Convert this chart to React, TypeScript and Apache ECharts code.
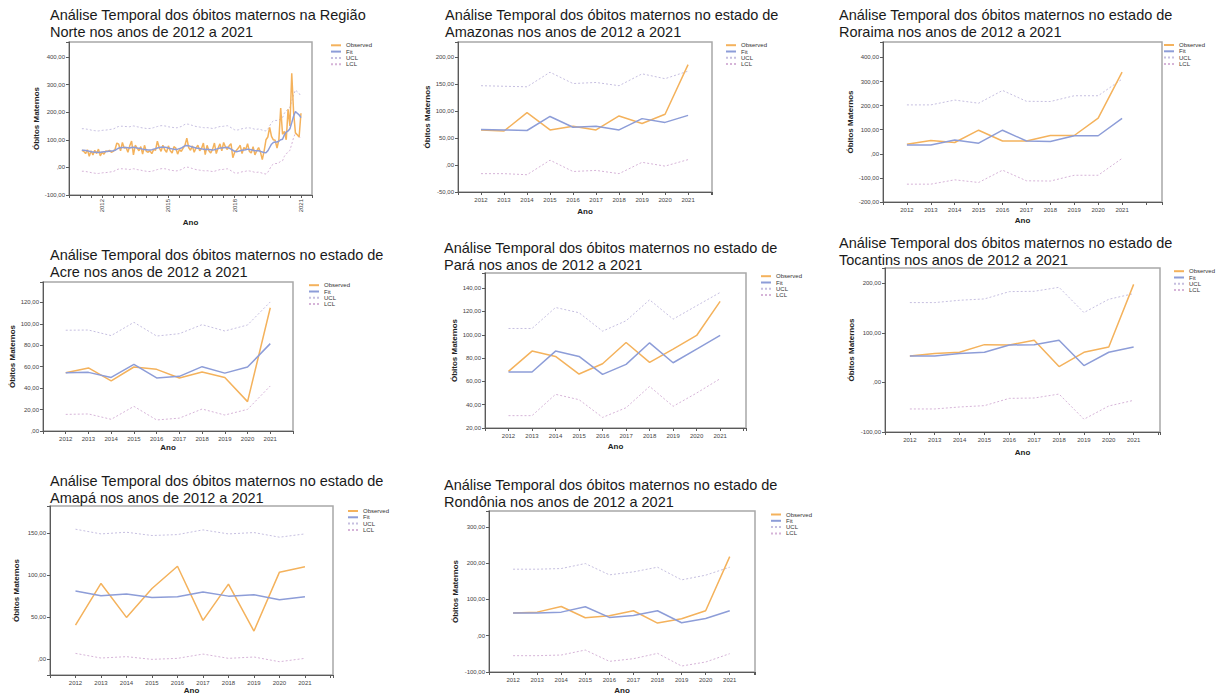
import React, { useEffect, useRef } from "react";
import * as echarts from "echarts";

// ---------- DATA ----------
const years = [2012, 2013, 2014, 2015, 2016, 2017, 2018, 2019, 2020, 2021];
const seriesNames = ["Observed", "Fit", "UCL", "LCL"];

// Região Norte: monthly values, Jan 2012 .. Dec 2021 (120 months)
const norteTickMonths = [12, 48, 84, 120];
const norteTickLabels = ["2012", "2015", "2018", "2021"];
const norteObserved = [
  62, 58, 50, 64, 40, 60, 45, 62, 50, 66, 42, 55,
  48, 60, 57, 62, 55, 58, 65, 88, 84, 60, 90, 70,
  72, 55, 78, 95, 45, 80, 70, 60, 75, 48, 80, 58,
  55, 60, 50, 65, 62, 95, 72, 58, 80, 64, 55, 78,
  60, 52, 75, 70, 48, 65, 58, 70, 80, 106, 72, 62,
  78, 55, 70, 80, 60, 68, 88, 46, 80, 60, 52, 66,
  88, 50, 70, 85, 60, 90, 74, 65, 78, 86, 35, 55,
  62, 70, 80, 50, 72, 65, 86, 58, 52, 75, 45, 60,
  72, 55, 28, 60, 100, 110, 145, 112, 100, 98, 70, 100,
  215, 120, 130, 100, 210, 150, 341, 200, 125, 118, 110, 196,
];
const norteFit = [
  62, 62, 61, 60, 58, 57, 56, 55, 55, 54, 55, 56,
  57, 57, 58, 58, 59, 60, 62, 66, 70, 71, 72, 72,
  72, 71, 70, 72, 73, 72, 70, 69, 68, 66, 65, 64,
  63, 63, 64, 66, 68, 70, 72, 73, 74, 73, 72, 70,
  68, 67, 66, 65, 66, 68, 70, 74, 78, 79, 78, 76,
  74, 72, 70, 69, 68, 67, 66, 65, 66, 65, 64, 63,
  64, 66, 68, 70, 70, 71, 72, 73, 70, 66, 62, 58,
  57, 58, 60, 62, 63, 64, 66, 65, 64, 62, 60, 60,
  60, 58, 56, 54, 53, 60, 72, 84, 90, 92, 92, 95,
  100, 102, 118, 128, 132, 140, 162, 185, 202, 196, 190, 180,
];
const norteUCL = [
  140, 140, 139, 138, 137, 135, 134, 133, 132, 132, 133, 134,
  135, 135, 136, 137, 138, 139, 142, 146, 148, 149, 149, 148,
  148, 147, 147, 149, 150, 149, 147, 146, 144, 143, 142, 141,
  141, 141, 142, 144, 146, 148, 150, 151, 151, 150, 149, 147,
  146, 145, 144, 143, 144, 146, 148, 152, 156, 157, 156, 154,
  152, 150, 148, 147, 146, 145, 144, 143, 144, 143, 142, 141,
  142, 144, 146, 148, 148, 149, 150, 151, 148, 144, 140, 136,
  135, 136, 138, 140, 141, 142, 144, 143, 142, 140, 138, 138,
  139, 137, 135, 133, 132, 138, 150, 162, 168, 170, 170, 172,
  176, 180, 196, 205, 210, 218, 240, 262, 280, 274, 268, 257,
];
const norteLCL = [
  -14, -14, -15, -16, -17, -19, -20, -21, -22, -22, -21, -20,
  -19, -19, -18, -17, -16, -15, -12, -8, -6, -5, -5, -6,
  -6, -7, -8, -6, -5, -6, -8, -9, -10, -12, -13, -14,
  -15, -15, -14, -12, -10, -8, -6, -5, -4, -5, -6, -8,
  -10, -11, -12, -13, -12, -10, -8, -4, 0, 1, 0, -2,
  -4, -6, -8, -9, -10, -11, -12, -13, -12, -13, -14, -15,
  -14, -12, -10, -8, -8, -7, -6, -5, -8, -12, -16, -20,
  -21, -20, -18, -16, -15, -14, -12, -13, -14, -16, -18, -18,
  -17, -19, -21, -23, -24, -18, -6, 6, 12, 14, 14, 17,
  22, 24, 40, 50, 54, 62, 84, 108, 124, 118, 112, 102,
];

const amazonasObserved = [65, 63, 97, 65, 72, 65, 91, 77, 94, 186];
const amazonasFit = [66, 65, 64, 90, 70, 72, 65, 86, 79, 92];
const amazonasUCL = [147, 146, 145, 172, 151, 153, 147, 169, 160, 174];
const amazonasLCL = [-16, -16, -18, 9, -12, -10, -16, 5, -2, 10];

const roraimaObserved = [40, 55, 47, 98, 53, 53, 76, 76, 148, 339];
const roraimaFit = [37, 37, 57, 44, 98, 53, 51, 75, 75, 147];
const roraimaUCL = [203, 203, 223, 210, 263, 218, 217, 241, 241, 310];
const roraimaLCL = [-126, -126, -108, -119, -68, -112, -113, -89, -89, -19];

const acreObserved = [54.4, 58.8, 46.7, 59.7, 57.5, 49.5, 55, 50, 27.4, 115];
const acreFit = [54.4, 54.7, 50, 62.2, 49.5, 51, 60, 54, 59.7, 81.5];
const acreUCL = [94, 94.2, 89, 101.4, 88.6, 90.8, 99.2, 93.3, 98.9, 120.4];
const acreLCL = [15.5, 15.9, 10.9, 23, 10.3, 12, 20.5, 14.9, 20.2, 42];

const paraObserved = [68.6, 86, 81.4, 66.3, 75.1, 93.4, 76.3, 87.7, 99.4, 128.6];
const paraFit = [68, 68, 86, 81.4, 66, 74.6, 93.1, 76, 87.7, 99.4];
const paraUCL = [105.4, 105.4, 123.4, 118.9, 103.1, 112, 130, 113.4, 124.9, 136.3];
const paraLCL = [30.6, 30.6, 48.9, 44.3, 29.1, 37.4, 55.7, 38.6, 50, 62.3];

const tocantinsObserved = [53.5, 58.2, 60.9, 76.3, 75.6, 85, 32.1, 60.9, 71.6, 198];
const tocantinsFit = [53.5, 53.5, 58.2, 60.9, 75.6, 76.3, 85, 34.1, 60.9, 71.6];
const tocantinsUCL = [161.2, 161.2, 165.9, 168.6, 183.3, 184, 192, 141.1, 167.9, 179.3];
const tocantinsLCL = [-53.5, -53.5, -49.5, -46.8, -32.1, -31.4, -23.4, -74.2, -47.5, -36.1];

const amapaObserved = [40.4, 89.9, 49.5, 83.9, 110.4, 45.9, 89.1, 33.3, 103.3, 109.7];
const amapaFit = [80.8, 75.2, 77.2, 73.2, 74, 79.6, 74.8, 76.4, 70.5, 74];
const amapaUCL = [154.4, 148.8, 150.8, 146.9, 148, 153.6, 148.8, 150.4, 144.9, 148.8];
const amapaLCL = [6.7, 1.2, 2.8, -0.4, 0.8, 5.9, 0.8, 2.4, -3.2, 0.8];

const rondoniaObserved = [62.4, 65.1, 80.7, 49.5, 55, 68.8, 34.9, 46.8, 68.8, 218.3];
const rondoniaFit = [62.4, 62.4, 65.1, 79.8, 50.5, 56, 68.8, 35.8, 47.7, 68.8];
const rondoniaUCL = [183.5, 183.5, 185.3, 199.1, 167.9, 176.1, 189, 154.1, 167, 189];
const rondoniaLCL = [-55, -55, -53.2, -39.4, -70.6, -63.3, -48.6, -83.5, -72.5, -49.5];

const titleLine1State = "Análise Temporal dos óbitos maternos no estado de";
const titles = [
  "Análise Temporal dos óbitos maternos na Região\nNorte nos anos de 2012 a 2021",
  titleLine1State + "\nAmazonas nos anos de 2012 a 2021",
  titleLine1State + "\nRoraima nos anos de 2012 a 2021",
  titleLine1State + "\nAcre nos anos de 2012 a 2021",
  titleLine1State + "\nPará nos anos de 2012 a 2021",
  titleLine1State + "\nTocantins nos anos de 2012 a 2021",
  titleLine1State + "\nAmapá nos anos de 2012 a 2021",
  titleLine1State + "\nRondônia nos anos de 2012 a 2021",
];

// ---------- LAYOUT / STYLE ----------
const FONT = '"Liberation Sans", Arial, sans-serif';
const C_OBS = "#f4b25c";
const C_FIT = "#8d9dd8";
const C_UCL = "#c6bfe0";
const C_LCL = "#d6b4d8";

type Panel = {
  title: number;
  titlePos: [number, number];
  grid: [number, number, number, number];
  y: { min: number; max: number; step: number; fixedInterval: boolean };
  xMax: number;
  legend: [number, number];
  yGap: number;
  xGap: number;
  monthly?: boolean;
  values: number[][];
};

const panels: Panel[] = [
  { title: 0, titlePos: [50, 6.5], grid: [69, 42, 243, 153], y: { min: -100, max: 454, step: 100, fixedInterval: true }, xMax: 126, legend: [330, 42.3], yGap: 29, xGap: 23, monthly: true, values: [norteObserved, norteFit, norteUCL, norteLCL] },
  { title: 1, titlePos: [445, 6.5], grid: [458, 42, 254, 150], y: { min: -50, max: 228, step: 50, fixedInterval: true }, xMax: 2022.04, legend: [725, 42.2], yGap: 26, xGap: 15, values: [amazonasObserved, amazonasFit, amazonasUCL, amazonasLCL] },
  { title: 2, titlePos: [839, 6.5], grid: [883, 42, 279, 160], y: { min: -200, max: 464, step: 100, fixedInterval: true }, xMax: 2022.67, legend: [1163, 42], yGap: 29, xGap: 14, values: [roraimaObserved, roraimaFit, roraimaUCL, roraimaLCL] },
  { title: 3, titlePos: [50, 246.5], grid: [43, 282, 250, 149], y: { min: 0, max: 139, step: 20, fixedInterval: true }, xMax: 2022, legend: [308, 282.2], yGap: 24, xGap: 12, values: [acreObserved, acreFit, acreUCL, acreLCL] },
  { title: 4, titlePos: [444, 239.2], grid: [485, 273, 261, 155], y: { min: 20, max: 153, step: 20, fixedInterval: true }, xMax: 2022.1, legend: [760, 273.2], yGap: 26, xGap: 14, values: [paraObserved, paraFit, paraUCL, paraLCL] },
  { title: 5, titlePos: [839, 234.2], grid: [885, 268, 275, 164], y: { min: -100, max: 231, step: 100, fixedInterval: true }, xMax: 2022.06, legend: [1173, 268.2], yGap: 30, xGap: 16, values: [tocantinsObserved, tocantinsFit, tocantinsUCL, tocantinsLCL] },
  { title: 6, titlePos: [50, 472.5], grid: [50, 506, 283, 169], y: { min: -19, max: 182, step: 50, fixedInterval: false }, xMax: 2022.1, legend: [347, 508], yGap: 30, xGap: 10, values: [amapaObserved, amapaFit, amapaUCL, amapaLCL] },
  { title: 7, titlePos: [444, 476.5], grid: [489, 511, 266, 161], y: { min: -100, max: 344, step: 100, fixedInterval: true }, xMax: 2022.05, legend: [770, 511.5], yGap: 30, xGap: 14, values: [rondoniaObserved, rondoniaFit, rondoniaUCL, rondoniaLCL] },
];

function fmtY(v: number): string {
  if (Math.abs(v) < 1e-9) return ",00";
  return v.toFixed(2).replace(".", ",");
}

function buildOption() {
  const grid: any[] = [];
  const xAxis: any[] = [];
  const yAxis: any[] = [];
  const series: any[] = [];
  const title: any[] = [];
  const legend: any[] = [];
  const nameStyle = { fontSize: 8, fontWeight: "bold", color: "#222", fontFamily: FONT };
  const axisLine = { show: true, onZero: false, lineStyle: { color: "#5a5a5a", width: 1 } };
  const axisTick = { show: true, length: 3, lineStyle: { color: "#5a5a5a", width: 1 } };

  panels.forEach((p, k) => {
    title.push({
      text: titles[p.title],
      left: p.titlePos[0],
      top: p.titlePos[1],
      padding: 0,
      textStyle: { fontSize: 14.5, fontWeight: "normal", color: "#1a1a1a", fontFamily: FONT, lineHeight: 17 },
    });
    grid.push({
      left: p.grid[0], top: p.grid[1], width: p.grid[2], height: p.grid[3],
      show: true, borderColor: "#a8a8a8", borderWidth: 1.5, backgroundColor: "#fff",
      containLabel: false, outerBoundsMode: "none",
    });
    if (p.monthly) {
      xAxis.push({
        type: "value", gridIndex: k, min: -6, max: p.xMax, interval: 6,
        splitLine: { show: false }, axisLine, axisTick,
        axisLabel: {
          fontSize: 6, color: "#444", fontFamily: FONT, margin: 4, rotate: 90,
          formatter: (v: number) => {
            const j = norteTickMonths.indexOf(v);
            return j >= 0 ? norteTickLabels[j] : "";
          },
        },
        name: "Ano", nameLocation: "middle", nameGap: p.xGap, nameTextStyle: nameStyle,
      });
    } else {
      xAxis.push({
        type: "value", gridIndex: k, min: 2011, max: p.xMax, interval: 1,
        splitLine: { show: false }, axisLine, axisTick,
        axisLabel: {
          fontSize: 6, color: "#444", fontFamily: FONT, margin: 5,
          formatter: (v: number) => (years.indexOf(v) >= 0 ? String(v) : ""),
        },
        name: "Ano", nameLocation: "middle", nameGap: p.xGap, nameTextStyle: nameStyle,
      });
    }
    const step = p.y.step;
    const yA: any = {
      type: "value", gridIndex: k, min: p.y.min, max: p.y.max,
      splitLine: { show: false }, axisLine, axisTick,
      axisLabel: {
        fontSize: 6, color: "#444", fontFamily: FONT, margin: 4,
        formatter: (v: number) => {
          const r = v / step;
          return Math.abs(r - Math.round(r)) < 1e-6 ? fmtY(v) : "";
        },
      },
      name: "Óbitos Maternos", nameLocation: "middle", nameGap: p.yGap, nameRotate: 90,
      nameTextStyle: nameStyle,
    };
    if (p.y.fixedInterval) yA.interval = step;
    else yA.splitNumber = 4;
    yAxis.push(yA);

    const xs = p.monthly ? p.values[0].map((_, i) => i + 1) : years;
    const styles = [
      { color: C_OBS, width: 1.5, type: "solid" },
      { color: C_FIT, width: 1.5, type: "solid" },
      { color: C_UCL, width: 1, type: [2, 2] },
      { color: C_LCL, width: 1, type: [2, 2] },
    ];
    p.values.forEach((vals, s) => {
      series.push({
        type: "line",
        name: seriesNames[s],
        xAxisIndex: k,
        yAxisIndex: k,
        data: vals.map((v, i) => [xs[i], v]),
        symbol: "none",
        silent: true,
        lineStyle: styles[s],
        itemStyle: { color: styles[s].color },
        z: 2 + (s < 2 ? 1 : 0),
      });
    });

    legend.push({
      orient: "vertical",
      left: p.legend[0],
      top: p.legend[1],
      padding: 0,
      itemWidth: 10,
      itemHeight: 7,
      itemGap: 0.3,
      selectedMode: false,
      itemStyle: { opacity: 0 },
      textStyle: { fontSize: 6, color: "#333", fontFamily: FONT },
      data: seriesNames,
    });
  });

  return {
    animation: false,
    backgroundColor: "#ffffff",
    textStyle: { fontFamily: FONT },
    title,
    legend,
    grid,
    xAxis,
    yAxis,
    series,
  };
}

export default function App() {
  const ref = useRef<HTMLDivElement>(null);
  useEffect(() => {
    if (!ref.current) return;
    const chart = echarts.init(ref.current, undefined, { renderer: "svg" });
    chart.setOption(buildOption() as any);
    return () => chart.dispose();
  }, []);
  return (
    <div
      ref={ref}
      style={{ position: "absolute", left: 0, top: 0, width: 1216, height: 695, background: "#fff" }}
    />
  );
}
